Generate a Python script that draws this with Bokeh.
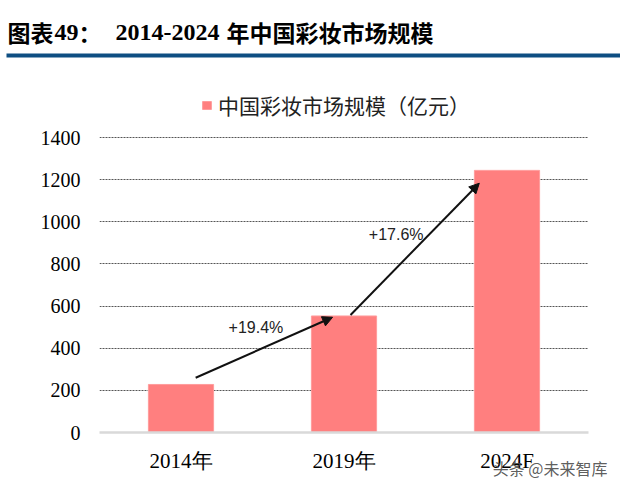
from bokeh.plotting import figure
from bokeh.layouts import column
from bokeh.core.properties import value
from bokeh.models import (ColumnDataSource, Range1d, FixedTicker, Label, LabelSet,
                          Arrow, NormalHead, Legend, LegendItem)
from bokeh.embed import file_html
from bokeh.resources import INLINE

# ---- data ----
categories = ["2014年", "2019年", "2024F"]
market_size = [228, 553, 1244]          # 亿元
growth_labels = ["+19.4%", "+17.6%"]
growth_label_x = [0.46, 1.32]
growth_label_y = [498, 940]
arrow_x0 = [0.09, 1.04]
arrow_y0 = [260, 558]
arrow_x1 = [0.93, 1.83]
arrow_y1 = [547, 1183]
y_ticks = [0, 200, 400, 600, 800, 1000, 1200, 1400]

title_parts = ["图表", "49", "：", "2014-2024", "年中国彩妆市场规模"]
legend_label = "中国彩妆市场规模（亿元）"
watermark = "头条 @未来智库"

SERIF = "Liberation Serif"
CJK = "Noto Sans CJK SC"
W = 620
TOP_H = 62
MAIN_H = 425
WM_H = 22
WM_OVERLAP = 31


def blank(fig):
    fig.frame_align = False
    fig.outline_line_color = None
    fig.xgrid.visible = False
    fig.ygrid.visible = False


# ---------- title strip ----------
t = figure(width=W, height=TOP_H, output_backend="svg", toolbar_location=None,
           x_range=Range1d(0, W), y_range=Range1d(TOP_H, 0),
           x_axis_location=None, y_axis_location=None,
           min_border=0, min_border_left=0, min_border_right=0,
           min_border_top=0, min_border_bottom=0)
blank(t)
t.background_fill_color = "white"
t.border_fill_color = "white"

title_x = [7, 54, 78, 115, 226]
title_font = [CJK, SERIF, CJK, SERIF, CJK]
title_size = ["23px", "24px", "23px", "24px", "23px"]
title_base = [31, 32, 31, 32, 31]
for txt, x, f, s, b in zip(title_parts, title_x, title_font, title_size, title_base):
    t.add_layout(Label(x=x, y=b, text=txt, text_font=f, text_font_size=s,
                       text_font_style="bold", text_color="black",
                       text_baseline="alphabetic"))
t.quad(left=[6], right=[W], top=[53], bottom=[57], fill_color="#0E4E82", line_color=None)

# ---------- main chart ----------
p = figure(width=W, height=MAIN_H, output_backend="svg", toolbar_location=None,
           x_range=Range1d(-0.5, 2.5), y_range=Range1d(0, 1756),
           min_border_left=99, min_border_right=32, min_border_top=0,
           min_border_bottom=55)
p.frame_align = False
p.outline_line_color = None
p.background_fill_color = "white"
p.border_fill_color = "white"

idx = list(range(len(categories)))
src = ColumnDataSource(dict(x=idx, top=market_size, cat=categories))
bars = p.vbar(x="x", top="top", width=0.4, source=src,
              fill_color="#FF7F7F", line_color="#FF9C9C", line_width=1)

p.xaxis.ticker = FixedTicker(ticks=idx)
p.xaxis.major_label_overrides = {i: c for i, c in zip(idx, categories)}
p.xaxis.axis_line_color = "#D9D9D9"
p.xaxis.axis_line_width = 2.5
p.xaxis.major_tick_in = 0
p.xaxis.major_tick_out = 0
p.xaxis.minor_tick_line_color = None
p.xaxis.major_label_standoff = 16
p.xaxis.major_label_text_font = SERIF
p.xaxis.major_label_text_font_size = "21px"
p.xaxis.major_label_text_color = "black"

p.yaxis.ticker = FixedTicker(ticks=y_ticks)
p.yaxis.axis_line_color = None
p.yaxis.major_tick_in = 0
p.yaxis.major_tick_out = 0
p.yaxis.minor_tick_line_color = None
p.yaxis.major_label_standoff = 19
p.yaxis.major_label_text_font = SERIF
p.yaxis.major_label_text_font_size = "20px"
p.yaxis.major_label_text_color = "black"

p.xgrid.grid_line_color = None
p.ygrid.grid_line_color = "#555555"
p.ygrid.grid_line_dash = "2 1"
p.ygrid.grid_line_width = 1

asrc = ColumnDataSource(dict(x0=arrow_x0, y0=arrow_y0, x1=arrow_x1, y1=arrow_y1))
p.add_layout(Arrow(end=NormalHead(size=10, fill_color="#111111", line_color="#111111"),
                   x_start="x0", y_start="y0", x_end="x1", y_end="y1",
                   line_width=2, line_color="#111111", source=asrc))

gsrc = ColumnDataSource(dict(x=growth_label_x, y=growth_label_y, t=growth_labels))
p.add_layout(LabelSet(x="x", y="y", text="t", source=gsrc, text_align="center",
                      text_baseline="middle",
                      text_font=value("Liberation Sans Narrow, Liberation Sans"),
                      text_font_size=value("16px"), text_color="#222222"))

legend = Legend(items=[LegendItem(label=legend_label, renderers=[bars])],
                location=(102, 312), orientation="horizontal",
                glyph_width=11, glyph_height=10, label_standoff=6, label_height=20,
                label_text_font=CJK, label_text_font_size="21px",
                label_text_color="#222222", padding=0, margin=0, spacing=0,
                border_line_color=None, background_fill_alpha=0)
p.add_layout(legend, "center")

# ---------- watermark strip (overlaps the bottom of the chart) ----------
w = figure(width=W, height=WM_H, output_backend="svg", toolbar_location=None,
           x_range=Range1d(0, W), y_range=Range1d(WM_H, 0),
           x_axis_location=None, y_axis_location=None,
           min_border=0, min_border_left=0, min_border_right=0,
           min_border_top=0, min_border_bottom=0,
           margin=(-WM_OVERLAP, 0, 0, 0))
blank(w)
w.background_fill_alpha = 0
w.border_fill_alpha = 0
w.add_layout(Label(x=607, y=WM_H / 2, text=watermark, text_font=CJK,
                   text_font_size="16px", text_color="#4A4A4A", text_alpha=0.9,
                   text_align="right", text_baseline="middle"))

layout = column(t, p, w, spacing=0)
open("out.html", "w").write(file_html(layout, INLINE))
